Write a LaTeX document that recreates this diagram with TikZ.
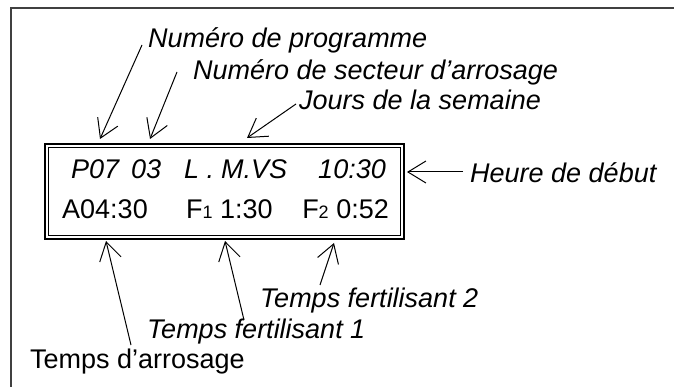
\documentclass[tikz,border=0pt]{standalone}
\usepackage{fontspec}
\setmainfont{Liberation Sans}
\usetikzlibrary{arrows.meta}
\tikzset{
  lbl/.style={inner sep=0pt, anchor=base west, font=\fontsize{27}{32}\selectfont\itshape},
  lblup/.style={inner sep=0pt, anchor=base west, font=\fontsize{27}{32}\selectfont},
  disp/.style={inner sep=0pt, anchor=base west, font=\fontsize{27}{32}\selectfont},
  dispit/.style={disp, font=\fontsize{27}{32}\selectfont\itshape},
  ptr/.style={line width=1pt, -{Straight Barb[length=18pt,width=22pt,line width=1pt]}},
  frameline/.style={line width=2pt, draw=black!75}
}
\newcommand{\smalldig}[1]{{\fontsize{18}{20}\selectfont #1}}
\begin{document}
\begin{tikzpicture}[x=1pt,y=-1pt]
\useasboundingbox (0,0) rectangle (674,387);
% outer frame (cut on right and bottom)
\draw[frameline] (11,400) -- (11,8) -- (690,8);
% display box
\node[draw, line width=1.6pt, minimum width=359pt, minimum height=95pt, inner sep=0pt, anchor=north west] (outer) at (44,143) {};
\node[draw, line width=1pt, minimum width=352pt, minimum height=88pt, inner sep=0pt] (inner) at (outer.center) {};
% display texts
\node[dispit] (p07) at (71,179) {P07};
\node[dispit] (n03) at (131,179) {03};
\node[dispit] (jl) at (184,179) {L .};
\node[dispit] (jm) at (221,179) {M.VS};
\node[dispit, anchor=base east] (t1030) at (386,179) {10:30};
\node[disp] (a0430) at (62,219) {A04:30};
\node[disp] (f1) at (186,219) {F\smalldig{1} 1:30};
\node[disp, anchor=base east] (f2) at (389,219) {F\smalldig{2} 0:52};
% labels
\node[lbl] (lprog) at (148,48) {Numéro de programme};
\node[lbl] (lsect) at (193,80) {Numéro de secteur d’arrosage};
\node[lbl] (ljours) at (299,110) {Jours de la semaine};
\node[lbl] (lheure) at (470,183) {Heure de début};
\node[lbl] (ltf2) at (260,307) {Temps fertilisant 2};
\node[lbl] (ltf1) at (147,338) {Temps fertilisant 1};
\node[lblup] (larr) at (30,368) {Temps d’arrosage};
% arrow ends
\coordinate (sprog) at (142,45);
\coordinate (tprog) at (100,139);
\coordinate (ssect) at (177,72);
\coordinate (tsect) at (150,139);
\coordinate (sjours) at (296,104);
\coordinate (tjours) at (247,138);
\coordinate (sheure) at (463,172);
\coordinate (theure) at (407,172);
\coordinate (sarr) at (131,345);
\coordinate (tarr) at (106,241);
\coordinate (stf1) at (244,320);
\coordinate (ttf1) at (225,241);
\coordinate (stf2) at (320,285);
\coordinate (ttf2) at (334,243);
\draw[ptr] (sprog) -- (tprog);
\draw[ptr] (ssect) -- (tsect);
\draw[ptr] (sjours) -- (tjours);
\draw[ptr] (sheure) -- (theure);
\draw[ptr] (sarr) -- (tarr);
\draw[ptr] (stf1) -- (ttf1);
\draw[ptr] (stf2) -- (ttf2);
\end{tikzpicture}
\end{document}
